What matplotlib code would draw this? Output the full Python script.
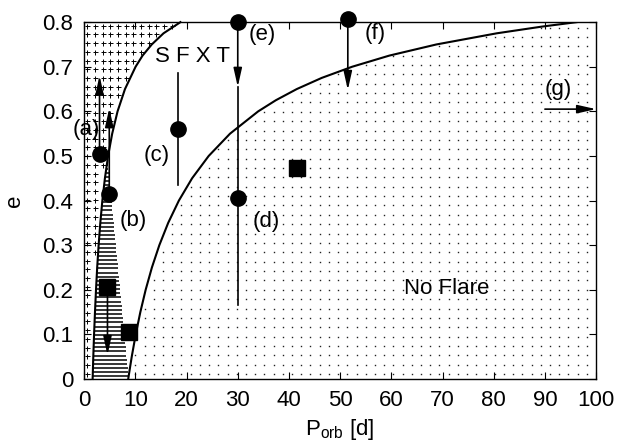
import numpy as np
import matplotlib
matplotlib.use("Agg")
import matplotlib.pyplot as plt

plt.rcParams['font.family'] = ['Liberation Sans', 'DejaVu Sans']
plt.rcParams['mathtext.fontset'] = 'custom'
plt.rcParams['mathtext.rm'] = 'Liberation Sans'
plt.rcParams['mathtext.it'] = 'Liberation Sans:italic'

# ---------------- data ----------------
# inner boundary curve (P_orb [d], e)
inner_e = [0.0, 0.05, 0.10, 0.15, 0.20, 0.25, 0.30, 0.35, 0.40, 0.45, 0.50,
           0.55, 0.60, 0.65, 0.70, 0.725, 0.75, 0.775, 0.80]
inner_P = [1.65, 1.78, 1.93, 2.11, 2.31, 2.54, 2.82, 3.15, 3.55, 4.05, 4.67,
           5.47, 6.52, 7.97, 10.04, 11.4, 13.2, 15.5, 18.8]
# outer boundary curve
outer_e = [0.0, 0.05, 0.10, 0.15, 0.20, 0.25, 0.30, 0.35, 0.40, 0.45, 0.50,
           0.55, 0.60, 0.625, 0.65, 0.675, 0.70, 0.725, 0.75, 0.775, 0.79, 0.80]
outer_P = [8.6, 9.29, 10.07, 10.97, 12.01, 13.23, 14.68, 16.41, 18.50, 21.08,
           24.32, 28.49, 33.99, 37.45, 41.53, 46.4, 52.34, 59.6, 68.8, 80.6,
           89.4, 96.2]
# right edge of the horizontally hatched wedge
wedge_P = [8.7, 4.55]
wedge_e = [0.0, 0.49]

# circles (systems a-f)
circ_labels = ['a', 'b', 'c', 'd', 'e', 'f']
circ_P = [3.0, 4.9, 18.4, 29.95, 30.0, 51.5]
circ_e = [0.505, 0.415, 0.56, 0.405, 0.80, 0.807]
# squares
sq_P = [4.55, 8.85, 41.5]
sq_e = [0.207, 0.105, 0.474]

# arrows (start P, start e, end P, end e)
arr_P0 = [3.0, 4.9, 4.55, 30.0, 51.5, 90.0]
arr_e0 = [0.505, 0.415, 0.207, 0.80, 0.807, 0.605]
arr_P1 = [3.0, 4.9, 4.55, 30.0, 51.5, 100.0]
arr_e1 = [0.68, 0.607, 0.054, 0.655, 0.648, 0.605]
# plain vertical ranges (P, e_low, e_high)
rng_P = [18.4, 30.0]
rng_lo = [0.435, 0.166]
rng_hi = [0.685, 0.655]

# text labels
lab_text = ['(a)', '(b)', '(c)', '(d)', '(e)', '(f)', '(g)', 'S F X T', 'No Flare']
lab_P = [0.4, 9.5, 14.2, 35.5, 34.8, 56.8, 92.6, 21.2, 70.9]
lab_e = [0.56, 0.355, 0.502, 0.353, 0.772, 0.775, 0.648, 0.723, 0.203]

xticks = list(range(0, 101, 10))
yticks = [0, 0.1, 0.2, 0.3, 0.4, 0.5, 0.6, 0.7, 0.8]
ytick_labels = ['0', '0.1', '0.2', '0.3', '0.4', '0.5', '0.6', '0.7', '0.8']

# ---------------- figure ----------------
fig = plt.figure(figsize=(6.19, 4.43), dpi=100)
ax = fig.add_axes([0.136, 0.1445, 0.827, 0.8055])
ax.set_xlim(0, 100)
ax.set_ylim(0, 0.8)

# textures (fill patterns)
# "+" pattern left of inner curve
gx, gy = np.meshgrid(np.arange(0.6, 20, 1.5), np.arange(0.012, 0.8, 0.0195))
gx, gy = gx.ravel(), gy.ravel()
m = gx < np.interp(gy, inner_e, inner_P) - 0.6
ax.plot(gx[m], gy[m], ls='none', marker='+', ms=3.6, mew=0.7, color='k', zorder=1)

# dot pattern right of outer curve
dx, dy = np.meshgrid(np.arange(1.0, 100, 1.8), np.arange(0.011, 0.8, 0.021))
dx, dy = dx.ravel(), dy.ravel()
m = dx > np.interp(dy, outer_e, outer_P) + 0.6
ax.plot(dx[m], dy[m], ls='none', marker='s', ms=1.0, mew=0, color='#222222', zorder=1)

# horizontal hatch in the wedge
hy = np.arange(0.006, 0.49, 0.0093)
hl = np.interp(hy, inner_e, inner_P)
hr = np.interp(hy, wedge_e, wedge_P)
ok = hr > hl
ax.hlines(hy[ok], hl[ok], hr[ok], color='k', lw=1.1, zorder=1)

# curves
ax.plot(inner_P, inner_e, color='k', lw=1.5, zorder=3, clip_on=False)
ax.plot(outer_P, outer_e, color='k', lw=1.5, zorder=3)

# vertical ranges
for p, lo, hi in zip(rng_P, rng_lo, rng_hi):
    ax.plot([p, p], [lo, hi], color='k', lw=1.2, zorder=4)

# arrows
for p0, e0, p1, e1 in zip(arr_P0, arr_e0, arr_P1, arr_e1):
    ax.annotate('', xy=(p1, e1), xytext=(p0, e0),
                arrowprops=dict(arrowstyle='-|>,head_width=0.18,head_length=0.8',
                                lw=1.2, color='k', shrinkA=0, shrinkB=0,
                                mutation_scale=14),
                annotation_clip=False, zorder=4)

# markers
ax.plot(circ_P, circ_e, ls='none', marker='o', ms=11, color='k', zorder=5, clip_on=False)
ax.plot(sq_P, sq_e, ls='none', marker='s', ms=12, color='k', zorder=5, clip_on=False)

# labels
for t, p, e in zip(lab_text, lab_P, lab_e):
    ax.text(p, e, t, fontsize=16, ha='center', va='center', zorder=6)

ax.set_xticks(xticks)
ax.set_yticks(yticks)
ax.set_yticklabels(ytick_labels)
ax.tick_params(direction='in', top=True, right=True, length=5, width=0.8,
               labelsize=16, pad=8)
for s in ax.spines.values():
    s.set_linewidth(1.0)
ax.set_xlabel(r'P$_{\rm orb}$ [d]', fontsize=16, labelpad=4)
ax.set_ylabel('e', fontsize=16, labelpad=12)

fig.savefig('out.png', dpi=100)
